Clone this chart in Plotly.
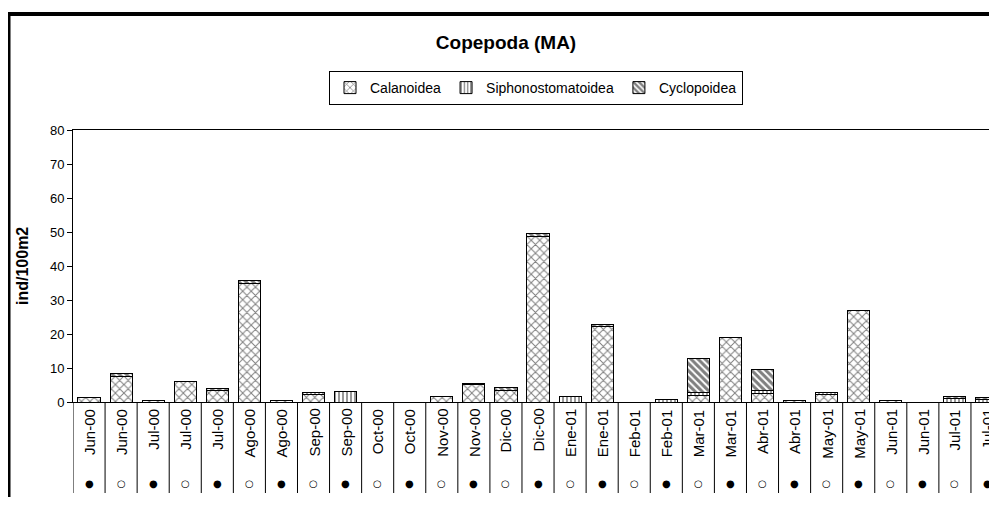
import plotly.graph_objects as go

# ---- data ----
months = ["Jun-00", "Jun-00", "Jul-00", "Jul-00", "Jul-00", "Ago-00", "Ago-00", "Sep-00", "Sep-00",
          "Oct-00", "Oct-00", "Nov-00", "Nov-00", "Dic-00", "Dic-00", "Ene-01", "Ene-01", "Feb-01",
          "Feb-01", "Mar-01", "Mar-01", "Abr-01", "Abr-01", "May-01", "May-01", "Jun-01", "Jun-01",
          "Jul-01", "Jul-01"]
phase = ["●", "○", "●", "○", "●", "○", "●", "○", "●", "○", "●", "○", "●", "○", "●", "○", "●", "○",
         "●", "○", "●", "○", "●", "○", "●", "○", "●", "○", "●"]
calanoidea = [1.2, 7.6, 0.3, 5.9, 3.4, 34.8, 0.3, 2.1, 0, 0, 0, 1.6, 5.2, 3.5, 48.8, 0, 22.2, 0, 0,
              1.8, 18.9, 2.4, 0.3, 2.1, 26.9, 0.3, 0, 0, 0]
siphonostomatoidea = [0, 0, 0, 0, 0, 0, 0, 0.8, 3.1, 0, 0, 0, 0, 0, 0, 1.5, 0, 0, 0.8,
                      0.9, 0, 0.9, 0, 0.7, 0, 0, 0, 1.0, 0.8]
cyclopoidea = [0, 0.9, 0, 0, 0.5, 0.8, 0, 0, 0, 0, 0, 0, 0.2, 0.8, 0.9, 0, 0.7, 0, 0,
               10.0, 0.2, 6.3, 0, 0, 0, 0, 0, 0.6, 0.4]
y_ticks = [0, 10, 20, 30, 40, 50, 60, 70, 80]

# ---- layout geometry (page pixels; the page body adds an 8px offset) ----
OFF = 8
W, H = 997 - OFF, 505 - 2 * OFF
L, R, T, B = 73 - OFF, 997 - OFF, 130 - OFF, 402 - OFF
pw, ph = R - L, B - T
CAT_PX = 32.07  # pixel width of one category slot


def px(x):
    return (x - OFF - L) / pw


def py(y):
    return (B - (y - OFF)) / ph


FONT = "Liberation Sans, Arial, sans-serif"
idx = list(range(len(months)))

fig = go.Figure()
series = [
    ("Calanoidea", calanoidea, dict(shape="x", size=6, solidity=0.3)),
    ("Siphonostomatoidea", siphonostomatoidea, dict(shape="|", size=4, solidity=0.4)),
    ("Cyclopoidea", cyclopoidea, dict(shape="\\", size=5, solidity=0.6)),
]
for name, vals, pat in series:
    fig.add_trace(go.Bar(
        x=idx, y=vals, name=name,
        marker=dict(color="white", line=dict(color="black", width=1),
                    pattern=dict(fgcolor="black", bgcolor="white", **pat)),
    ))

shapes = []
# category separators below axis
for i in range(len(months) + 1):
    shapes.append(dict(type="line", xref="x", yref="paper", x0=i - 0.5, x1=i - 0.5,
                       y0=0, y1=py(493), line=dict(color="black", width=1)))
# outer frame (top and left thick lines)
shapes.append(dict(type="line", xref="paper", yref="paper", x0=px(8), x1=px(1010),
                   y0=py(14), y1=py(14), line=dict(color="black", width=4)))
shapes.append(dict(type="line", xref="paper", yref="paper", x0=px(9), x1=px(9),
                   y0=py(12), y1=py(515), line=dict(color="black", width=3)))

annotations = []
for i, (m, p) in enumerate(zip(months, phase)):
    annotations.append(dict(x=i, y=py(407), xref="x", yref="paper", text=m, textangle=-90,
                            xanchor="center", yanchor="top", showarrow=False,
                            font=dict(family=FONT, size=15, color="black")))
    annotations.append(dict(x=i, y=py(483), xref="x", yref="paper", text=p,
                            xanchor="center", yanchor="middle", showarrow=False,
                            font=dict(family="DejaVu Sans", size=10, color="black")))
annotations.append(dict(x=px(22), y=py(266), xref="paper", yref="paper", text="<b>ind/100m2</b>",
                        textangle=-90, showarrow=False, xanchor="center", yanchor="middle",
                        font=dict(family=FONT, size=16, color="black")))

fig.update_layout(
    width=W, height=H,
    margin=dict(l=L, r=W - R, t=T, b=H - B, pad=0),
    paper_bgcolor="white", plot_bgcolor="white",
    barmode="stack", bargap=0.31,
    title=dict(text="<b>Copepoda (MA)</b>", x=px(506), xref="paper", xanchor="center",
               y=1 - (42 - OFF) / H, yref="container", yanchor="middle",
               font=dict(family=FONT, size=19, color="black")),
    legend=dict(orientation="h", x=px(536), y=py(71), xanchor="center", yanchor="top",
                bordercolor="black", borderwidth=1, bgcolor="white", traceorder="normal",
                font=dict(family=FONT, size=14, color="black"),
                itemwidth=30, tracegroupgap=0),
    xaxis=dict(range=[-0.5, -0.5 + pw / CAT_PX], showticklabels=False, showgrid=False,
               zeroline=False, showline=True, linecolor="black", linewidth=1, mirror=True,
               ticks=""),
    yaxis=dict(range=[0, 80], tickvals=y_ticks, showgrid=False, zeroline=False,
               showline=True, linecolor="black", linewidth=1, ticks="outside", ticklen=5,
               tickcolor="black", tickfont=dict(family=FONT, size=13, color="black")),
    shapes=shapes, annotations=annotations, showlegend=True,
)
fig.write_html("out.html")
